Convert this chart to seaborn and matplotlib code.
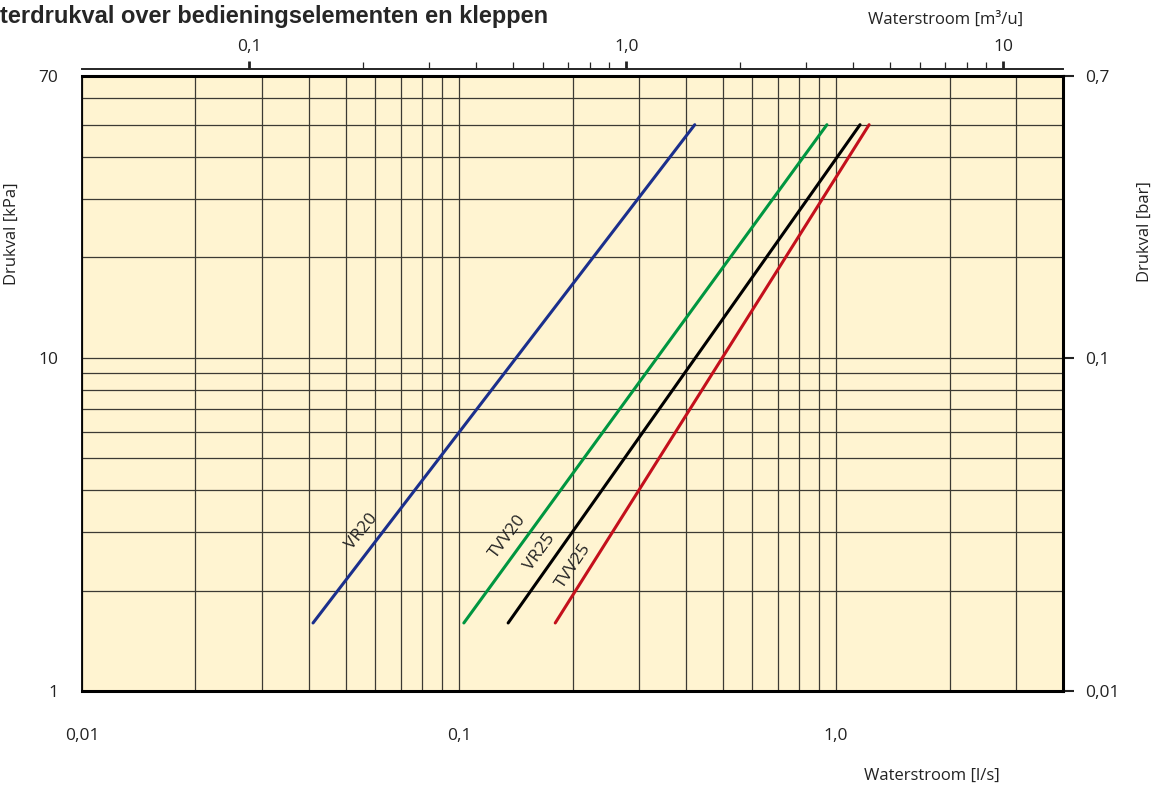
import numpy as np
import pandas as pd
import seaborn as sns
import matplotlib.pyplot as plt
from matplotlib.ticker import FixedLocator, NullFormatter, LogLocator

# Drukval-lijnen (l/s tegen kPa)
valves = ["VR20", "TVV20", "VR25", "TVV25"]
flow_start = [0.041, 0.103, 0.135, 0.180]
flow_end = [0.422, 0.946, 1.158, 1.224]
dp_start = [1.6, 1.6, 1.6, 1.6]
dp_end = [50, 50, 50, 50]
colors = ["#1b2f8c", "#009640", "#000000", "#c4101c"]

# plaats en hoek van de labels bij de lijnen
label_x = [0.0551, 0.1346, 0.1637, 0.2014]
label_y = [3.0, 2.9, 2.61, 2.37]
label_rot = [51, 53, 54, 56]

bottom_ticks = [0.01, 0.1, 1.0]
bottom_labels = ["0,01", "0,1", "1,0"]
top_ticks = [0.1, 1, 10]
top_labels = ["0,1", "1,0", "10"]
top_minor = [0.2, 0.3, 0.4, 0.5, 0.6, 0.7, 0.8, 0.9, 2, 3, 4, 5, 6, 7, 8, 9]
left_ticks = [1, 10, 70]
left_labels = ["1", "10", "70"]
right_ticks = [0.01, 0.1, 0.7]
right_labels = ["0,01", "0,1", "0,7"]

rows = []
for v, x0, x1, y0, y1 in zip(valves, flow_start, flow_end, dp_start, dp_end):
    rows.append({"valve": v, "flow": x0, "dp": y0})
    rows.append({"valve": v, "flow": x1, "dp": y1})
df = pd.DataFrame(rows)

sns.set_style("white")
plt.rcParams["font.family"] = ["Open Sans", "DejaVu Sans"]

fig = plt.figure(figsize=(11.57, 7.87), dpi=100)
ax = fig.add_axes([82 / 1157, 1 - 691 / 787, (1063 - 82) / 1157, (691 - 76) / 787])
ax.set_facecolor("#fff4d1")

ax.set_xscale("log")
ax.set_yscale("log")
ax.set_xlim(0.01, 4.0)
ax.set_ylim(1, 70)

# raster
ax.xaxis.set_minor_locator(LogLocator(base=10, subs=np.arange(2, 10)))
ax.yaxis.set_minor_locator(LogLocator(base=10, subs=np.arange(2, 10)))
ax.xaxis.set_minor_formatter(NullFormatter())
ax.yaxis.set_minor_formatter(NullFormatter())
ax.grid(which="both", color="#3c3a33", lw=0.9)
ax.set_axisbelow(True)

sns.lineplot(data=df, x="flow", y="dp", hue="valve", hue_order=valves,
             palette=colors, legend=False, lw=2.2, ax=ax, zorder=3)

for name, lx, ly, r in zip(valves, label_x, label_y, label_rot):
    ax.text(lx, ly, name, rotation=r, ha="center", va="center",
            fontsize=12.5, color="#222222", zorder=4)

ax.set_xticks(bottom_ticks)
ax.set_xticklabels(bottom_labels)
ax.set_yticks(left_ticks)
ax.set_yticklabels(left_labels)
ax.tick_params(axis="x", which="major", direction="inout", length=10, width=1.2,
               labelsize=12.5, pad=22, colors="#222222")
ax.tick_params(axis="y", which="major", direction="out", length=8, width=1.5,
               labelsize=12.5, pad=9, colors="#222222")
ax.tick_params(which="minor", length=0)
ax.set_xlabel("")
ax.set_ylabel("")

for side in ["bottom", "top", "right"]:
    ax.spines[side].set_linewidth(2.2)
    ax.spines[side].set_color("black")
ax.spines["left"].set_linewidth(1.3)
ax.spines["left"].set_color("black")

# bovenste as in m3/u
top = ax.secondary_xaxis("top", functions=(lambda x: x * 3.6, lambda x: x / 3.6))
top.spines["top"].set_position(("outward", 5))
top.spines["top"].set_linewidth(1.4)
top.xaxis.set_major_locator(FixedLocator(top_ticks))
top.set_xticklabels(top_labels)
top.xaxis.set_minor_locator(FixedLocator(top_minor))
top.xaxis.set_minor_formatter(NullFormatter())
top.tick_params(which="major", direction="out", length=6, width=2, labelsize=12.5,
                pad=4, colors="#222222")
top.tick_params(which="minor", direction="out", length=5, width=0.9)

# rechter as in bar
right = ax.secondary_yaxis("right", functions=(lambda y: y / 100, lambda y: y * 100))
right.yaxis.set_major_locator(FixedLocator(right_ticks))
right.set_yticklabels(right_labels)
right.yaxis.set_minor_locator(FixedLocator([]))
right.tick_params(which="major", direction="out", length=8, width=1.5, labelsize=12.5,
                  pad=8, colors="#222222")

fig.text(0.0, 1 - 16 / 787, "terdrukval over bedieningselementen en kleppen",
         fontsize=17, fontweight="bold", family="Liberation Sans",
         ha="left", va="center")
fig.text(946 / 1157, 1 - 20 / 787, "Waterstroom [m³/u]", fontsize=12,
         ha="center", va="center", color="#222222")
fig.text(932 / 1157, 1 - 776 / 787, "Waterstroom [l/s]", fontsize=12,
         ha="center", va="center", color="#222222")
fig.text(12 / 1157, 1 - 234 / 787, "Drukval [kPa]", fontsize=12, rotation=90,
         ha="center", va="center", color="#222222")
fig.text(1145 / 1157, 1 - 232 / 787, "Drukval [bar]", fontsize=12, rotation=90,
         ha="center", va="center", color="#222222")

fig.savefig("out.png", dpi=100)
